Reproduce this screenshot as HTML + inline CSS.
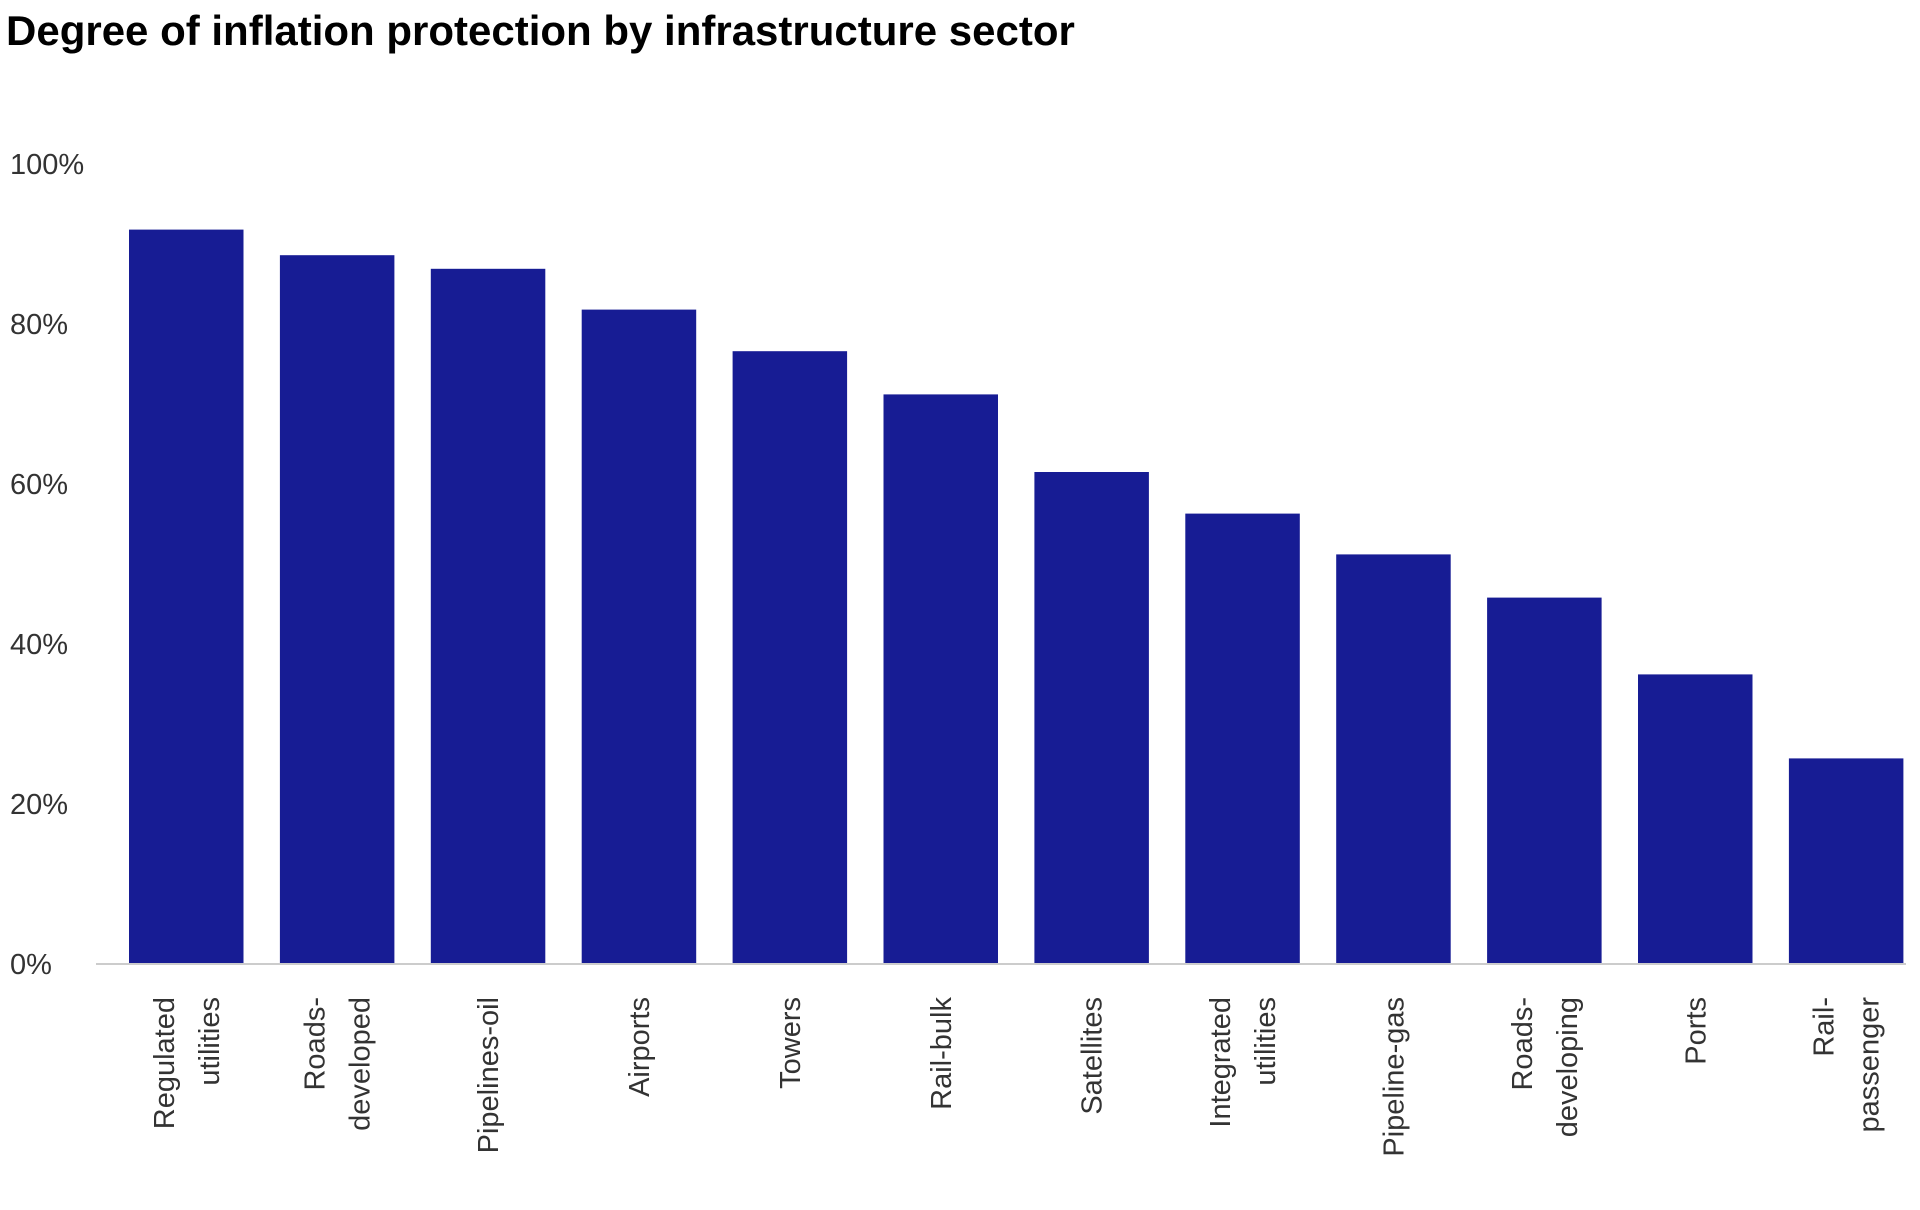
<!DOCTYPE html>
<html><head><meta charset="utf-8"><style>
html,body{margin:0;padding:0;background:#fff;}
svg{display:block;font-family:"Liberation Sans",sans-serif;}
</style></head><body>
<svg id="chart" width="1920" height="1210" viewBox="0 0 1920 1210" xmlns="http://www.w3.org/2000/svg">
<text x="6" y="45" font-size="42" font-weight="bold" fill="#000">Degree of inflation protection by infrastructure sector</text>
<g id="yaxis"></g>
<g id="bars"></g>
<line x1="96" x2="1906" y1="964" y2="964" stroke="#cccccc" stroke-width="2"/>
<g id="xlabels"></g>
</svg>
<script>
const categories = [["Regulated","utilities"],["Roads-","developed"],["Pipelines-oil"],["Airports"],["Towers"],["Rail-bulk"],["Satellites"],["Integrated","utilities"],["Pipeline-gas"],["Roads-","developing"],["Ports"],["Rail-","passenger"]];
const values = [91.8,88.6,86.9,81.8,76.6,71.2,61.5,56.3,51.2,45.8,36.2,25.7];
const yTicks = [0,20,40,60,80,100];
const yTickLabels = ["0%","20%","40%","60%","80%","100%"];

const NS="http://www.w3.org/2000/svg";
const y0=964, yTop=164, x0=129, step=150.9, bw=114.5;
function yScale(v){return y0-(v/100)*(y0-yTop);}
function xScale(i){return x0+i*step;}
const yaxis=document.getElementById('yaxis');
yTicks.forEach((t,i)=>{
  const tx=document.createElementNS(NS,'text');
  
  
  tx.setAttribute('x',10);tx.setAttribute('y',yScale(t)+10);
  tx.setAttribute('font-size','29');tx.setAttribute('fill','#333');
  tx.textContent=yTickLabels[i];yaxis.appendChild(tx);
});
const bars=document.getElementById('bars');
const xl=document.getElementById('xlabels');
values.forEach((v,i)=>{
  const r=document.createElementNS(NS,'rect');
  
  
  r.setAttribute('x',xScale(i));r.setAttribute('y',yScale(v));
  r.setAttribute('width',bw);r.setAttribute('height',y0-yScale(v));
  r.setAttribute('fill','#171c94');bars.appendChild(r);
  const lines=categories[i];
  const cx=xScale(i)+bw/2;
  lines.forEach((ln,j)=>{
    const off=(j-(lines.length-1)/2)*45;
    const xx=cx+off+10;
    const t=document.createElementNS(NS,'text');
    
    
    t.setAttribute('x',xx);t.setAttribute('y',997);
    t.setAttribute('text-anchor','end');
    t.setAttribute('font-size','29');t.setAttribute('fill','#333');
    t.setAttribute('transform','rotate(-90 '+xx+' 997)');
    t.textContent=ln;xl.appendChild(t);
  });
});
</script>
</body></html>
